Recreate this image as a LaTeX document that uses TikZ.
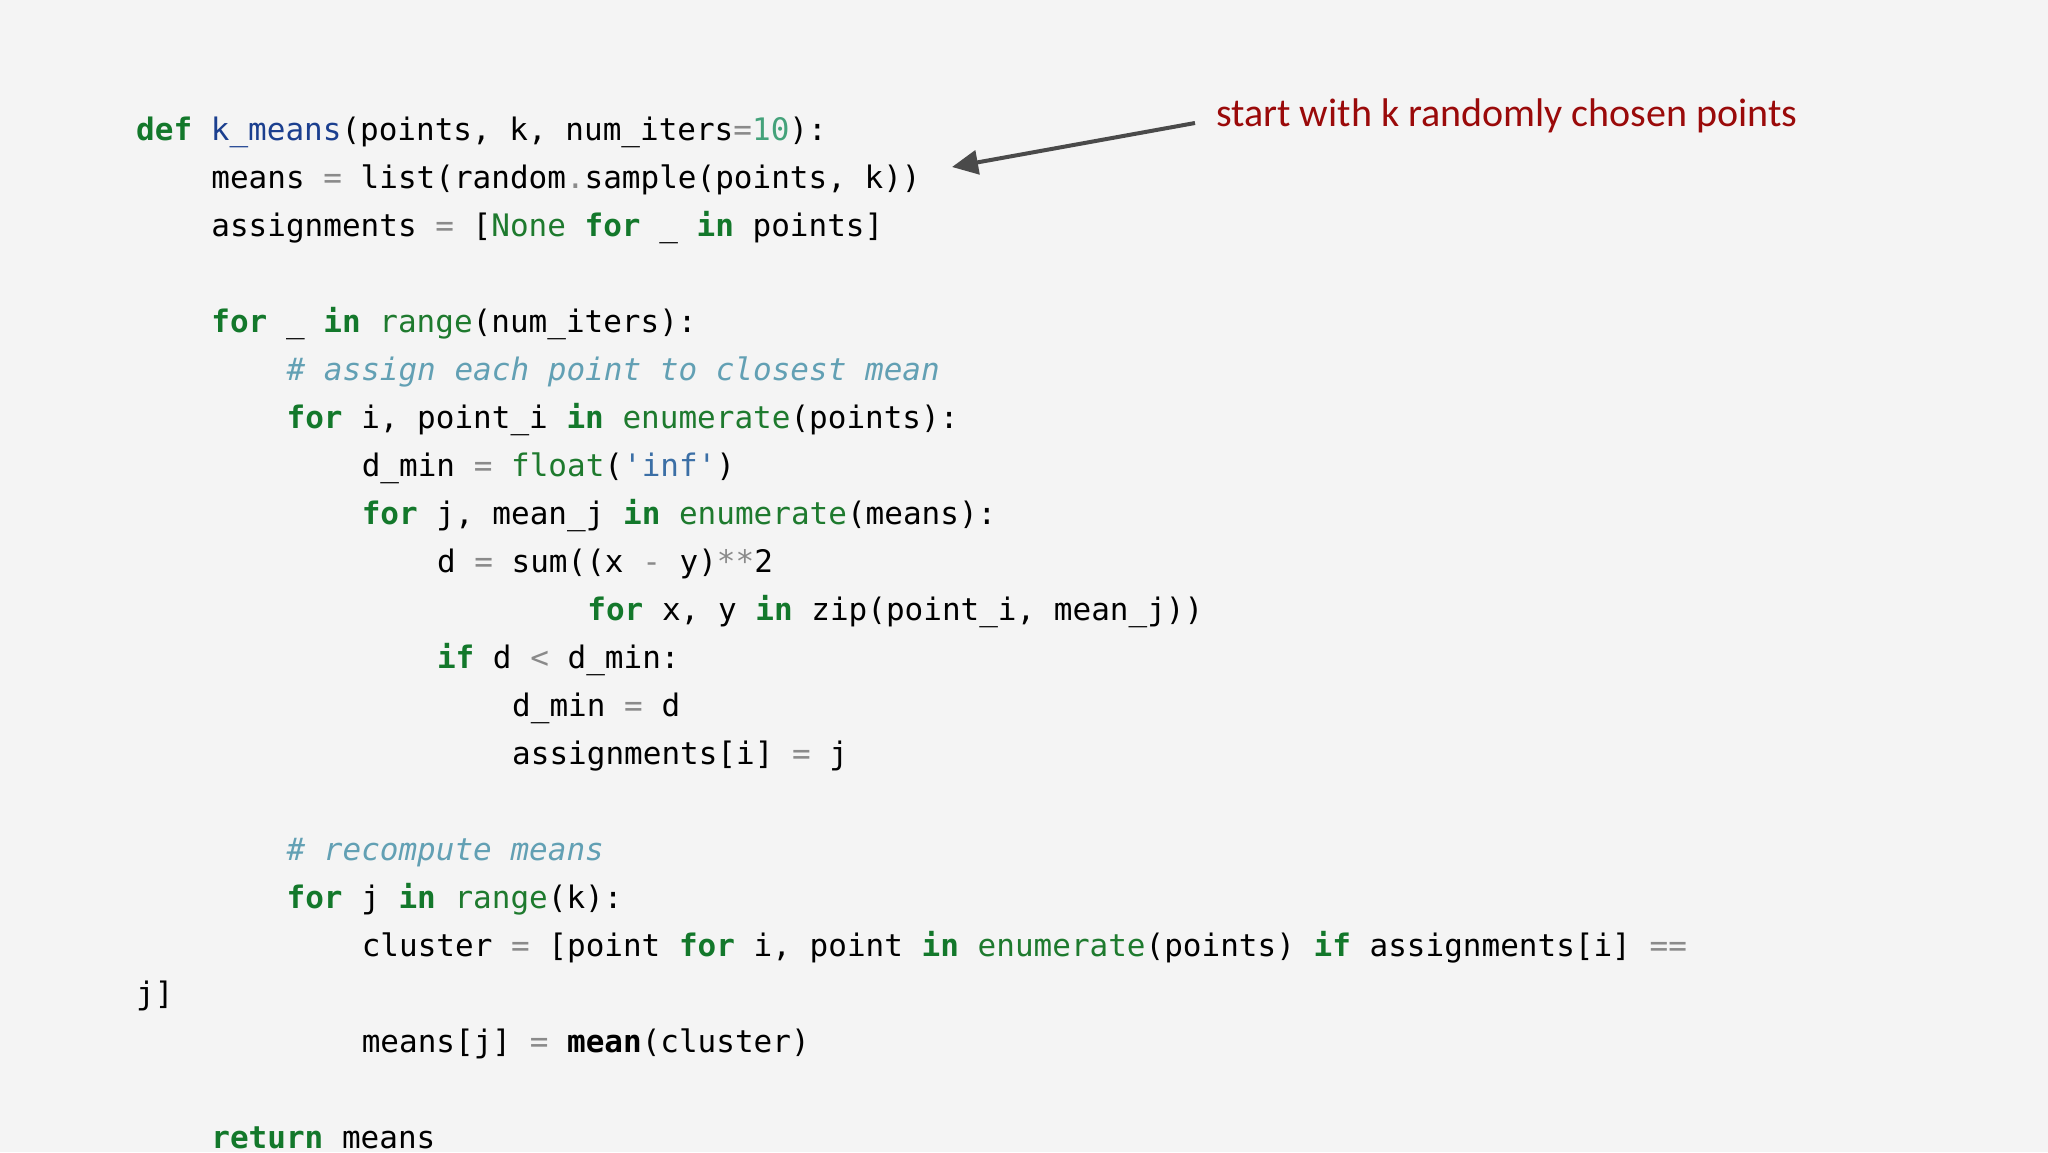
\documentclass[tikz,border=0pt]{standalone}
\usepackage{fontspec}
\usetikzlibrary{arrows.meta}
\newfontfamily\codefont{DejaVu Sans Mono}
\newfontfamily\notefont{Carlito}
\definecolor{bg}{HTML}{F4F4F4}
\definecolor{kwc}{HTML}{13782B}
\definecolor{bic}{HTML}{1E7A2E}
\definecolor{fnc}{HTML}{1B3F8F}
\definecolor{numc}{HTML}{44A27A}
\definecolor{strc}{HTML}{3B6FA6}
\definecolor{cmc}{HTML}{62A0B4}
\definecolor{opc}{HTML}{8A8A8A}
\definecolor{notec}{HTML}{9A0A0A}
\definecolor{arrc}{HTML}{4A4A4A}
\newcommand\kw[1]{\textcolor{kwc}{\bfseries #1}}
\newcommand\bi[1]{\textcolor{bic}{#1}}
\newcommand\op[1]{\textcolor{opc}{#1}}
\newcommand\cm[1]{\textcolor{cmc}{\itshape #1}}
\newcommand\codeline[3]{\node[codeln] (l#1) at ({136+#2*18.8},{-(140+#1*48.0)}) {#3};}
\begin{document}
\begin{tikzpicture}[x=1pt,y=1pt,
  codeln/.style={anchor=base west,inner sep=0pt,font=\codefont\fontsize{31}{36}\selectfont,text=black}]
\fill[bg] (0,0) rectangle (2048,-1152);
\useasboundingbox (0,0) rectangle (2048,-1152);
\codeline{0}{0}{\kw{def} \textcolor{fnc}{k\_means}(points, k, num\_iters\op{=}\textcolor{numc}{10}):}
\codeline{1}{4}{means \op{=} list(random\op{.}sample(points, k))}
\codeline{2}{4}{assignments \op{=} [\bi{None} \kw{for} \_ \kw{in} points]}
\codeline{4}{4}{\kw{for} \_ \kw{in} \bi{range}(num\_iters):}
\codeline{5}{8}{\cm{\# assign each point to closest mean}}
\codeline{6}{8}{\kw{for} i, point\_i \kw{in} \bi{enumerate}(points):}
\codeline{7}{12}{d\_min \op{=} \bi{float}(\textcolor{strc}{'inf'})}
\codeline{8}{12}{\kw{for} j, mean\_j \kw{in} \bi{enumerate}(means):}
\codeline{9}{16}{d \op{=} sum((x \op{-} y)\op{**}2}
\codeline{10}{24}{\kw{for} x, y \kw{in} zip(point\_i, mean\_j))}
\codeline{11}{16}{\kw{if} d \op{<} d\_min:}
\codeline{12}{20}{d\_min \op{=} d}
\codeline{13}{20}{assignments[i] \op{=} j}
\codeline{15}{8}{\cm{\# recompute means}}
\codeline{16}{8}{\kw{for} j \kw{in} \bi{range}(k):}
\codeline{17}{12}{cluster \op{=} [point \kw{for} i, point \kw{in} \bi{enumerate}(points) \kw{if} assignments[i] \op{==}}
\codeline{18}{0}{j]}
\codeline{19}{12}{means[j] \op{=} \textbf{mean}(cluster)}
\codeline{21}{4}{\kw{return} means}
\node[anchor=base west,inner sep=0pt,font=\notefont\fontsize{40}{48}\selectfont,text=notec] (note) at (1216,-126) {start with k randomly chosen points};
\coordinate (tail) at (1195,-123);
\coordinate (tip) at (952,-167);
\draw[arrc,line width=4pt,-{Triangle[length=26pt,width=24pt]}] (tail) -- (tip);
\end{tikzpicture}
\end{document}
